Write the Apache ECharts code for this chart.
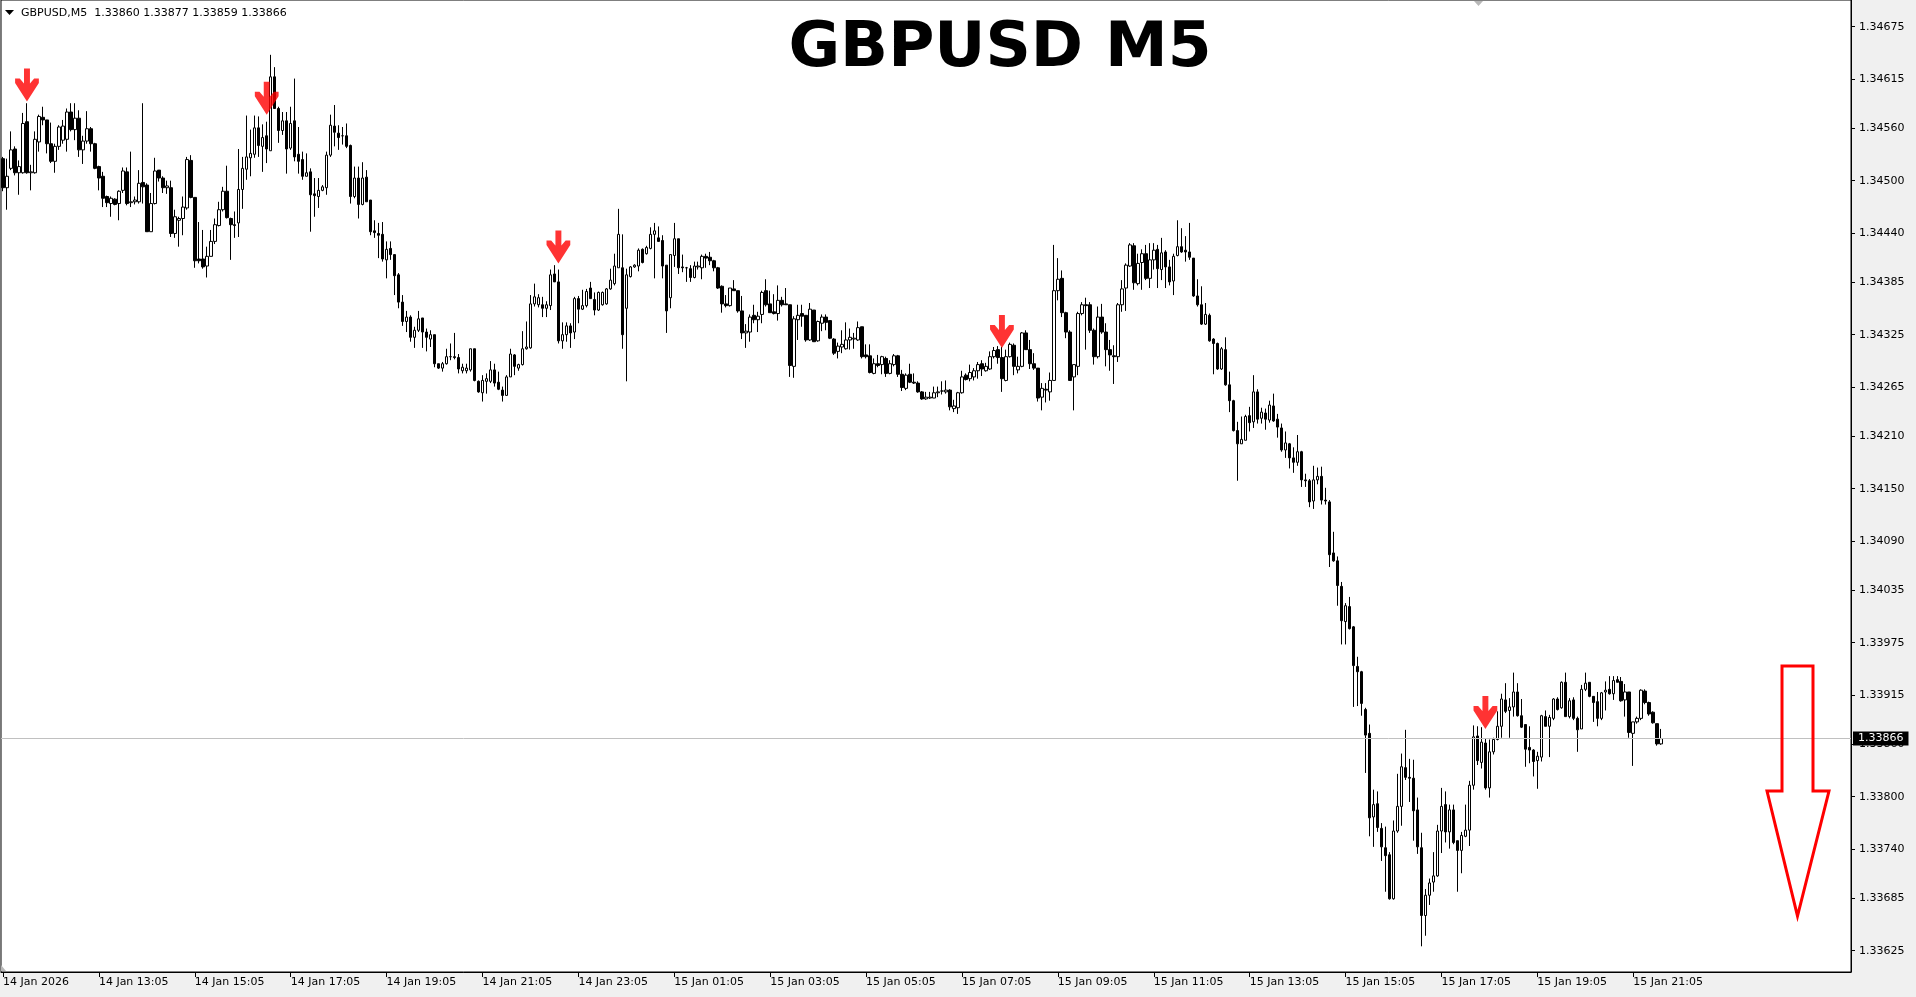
<!DOCTYPE html>
<html>
<head>
<meta charset="utf-8">
<script src="https://cdn.jsdelivr.net/npm/echarts@6/dist/echarts.min.js"></script>
<style>
html,body{margin:0;padding:0;background:#f0f0f0;}
#chart{width:1916px;height:997px;}
</style>
</head>
<body>
<div id="chart"></div>
<script>
// ---------- DATA ----------
const symbolName = 'GBPUSD,M5';
const titleText = 'GBPUSD M5';
const startTime = '2026-01-14 11:05';
const timeLabels = ['14 Jan 2026','14 Jan 13:05','14 Jan 15:05','14 Jan 17:05','14 Jan 19:05','14 Jan 21:05','14 Jan 23:05','15 Jan 01:05','15 Jan 03:05','15 Jan 05:05','15 Jan 07:05','15 Jan 09:05','15 Jan 11:05','15 Jan 13:05','15 Jan 15:05','15 Jan 17:05','15 Jan 19:05','15 Jan 21:05'];
const priceTicks = [1.34675,1.34615,1.34560,1.34500,1.34440,1.34385,1.34325,1.34265,1.34210,1.34150,1.34090,1.34035,1.33975,1.33915,1.33860,1.33800,1.33740,1.33685,1.33625];
const arrowBars = [6,66,139,250,371];
const arrowPrices = [1.34590,1.34575,1.34406,1.34310,1.33877];

const opens = [1.34525,1.34492,1.34514,1.34536,1.34509,1.34509,1.34567,1.34509,1.34509,1.34544,1.34572,1.34569,1.34542,1.34522,1.34539,1.34546,1.34547,1.34578,1.34558,1.34571,1.34535,1.34545,1.34559,1.34542,1.34516,1.34505,1.34482,1.34474,1.34479,1.34474,1.34489,1.34510,1.34475,1.34476,1.34476,1.34498,1.34495,1.34442,1.34474,1.34512,1.34503,1.34492,1.34492,1.34440,1.34455,1.34457,1.34469,1.34523,1.34481,1.34411,1.34411,1.34403,1.34414,1.34431,1.34449,1.34467,1.34488,1.34457,1.34450,1.34452,1.34490,1.34513,1.34526,1.34530,1.34560,1.34539,1.34551,1.34534,1.34618,1.34582,1.34557,1.34568,1.34537,1.34568,1.34530,1.34524,1.34505,1.34510,1.34485,1.34482,1.34489,1.34492,1.34529,1.34562,1.34554,1.34551,1.34551,1.34540,1.34482,1.34503,1.34473,1.34504,1.34478,1.34443,1.34440,1.34439,1.34410,1.34423,1.34416,1.34393,1.34362,1.34340,1.34345,1.34322,1.34330,1.34344,1.34328,1.34320,1.34325,1.34292,1.34287,1.34292,1.34300,1.34300,1.34299,1.34284,1.34284,1.34285,1.34309,1.34272,1.34259,1.34272,1.34272,1.34285,1.34271,1.34262,1.34256,1.34277,1.34302,1.34287,1.34291,1.34309,1.34310,1.34360,1.34359,1.34359,1.34355,1.34358,1.34394,1.34385,1.34318,1.34325,1.34335,1.34328,1.34366,1.34354,1.34358,1.34378,1.34365,1.34353,1.34359,1.34360,1.34377,1.34383,1.34401,1.34401,1.34355,1.34391,1.34402,1.34403,1.34422,1.34417,1.34423,1.34439,1.34435,1.34432,1.34404,1.34367,1.34415,1.34434,1.34402,1.34401,1.34400,1.34390,1.34402,1.34401,1.34414,1.34413,1.34409,1.34401,1.34380,1.34360,1.34358,1.34377,1.34375,1.34352,1.34327,1.34328,1.34347,1.34342,1.34348,1.34375,1.34360,1.34351,1.34349,1.34364,1.34360,1.34359,1.34289,1.34342,1.34349,1.34347,1.34319,1.34353,1.34318,1.34338,1.34345,1.34341,1.34320,1.34306,1.34311,1.34309,1.34319,1.34320,1.34319,1.34334,1.34302,1.34301,1.34281,1.34292,1.34291,1.34298,1.34281,1.34291,1.34301,1.34280,1.34264,1.34280,1.34271,1.34270,1.34260,1.34252,1.34253,1.34253,1.34259,1.34261,1.34260,1.34262,1.34241,1.34242,1.34259,1.34279,1.34275,1.34277,1.34284,1.34292,1.34284,1.34286,1.34300,1.34308,1.34299,1.34273,1.34300,1.34313,1.34285,1.34289,1.34327,1.34308,1.34292,1.34287,1.34254,1.34263,1.34260,1.34273,1.34375,1.34389,1.34350,1.34328,1.34277,1.34289,1.34349,1.34359,1.34359,1.34330,1.34300,1.34345,1.34328,1.34308,1.34301,1.34300,1.34359,1.34378,1.34403,1.34426,1.34383,1.34407,1.34417,1.34389,1.34410,1.34422,1.34399,1.34419,1.34402,1.34386,1.34415,1.34425,1.34421,1.34419,1.34412,1.34369,1.34359,1.34337,1.34347,1.34320,1.34315,1.34286,1.34308,1.34268,1.34250,1.34216,1.34201,1.34205,1.34233,1.34226,1.34260,1.34230,1.34236,1.34228,1.34244,1.34229,1.34219,1.34194,1.34201,1.34185,1.34180,1.34192,1.34160,1.34159,1.34136,1.34160,1.34164,1.34137,1.34135,1.34077,1.34068,1.34039,1.33999,1.34016,1.33993,1.33948,1.33942,1.33899,1.33872,1.33777,1.33792,1.33764,1.33742,1.33734,1.33684,1.33761,1.33789,1.33833,1.33822,1.33821,1.33785,1.33742,1.33665,1.33688,1.33703,1.33710,1.33761,1.33791,1.33760,1.33785,1.33750,1.33739,1.33755,1.33762,1.33813,1.33869,1.33839,1.33861,1.33810,1.33851,1.33865,1.33880,1.33910,1.33898,1.33902,1.33919,1.33892,1.33882,1.33856,1.33853,1.33841,1.33845,1.33891,1.33880,1.33889,1.33911,1.33901,1.33930,1.33891,1.33910,1.33889,1.33877,1.33922,1.33930,1.33914,1.33908,1.33889,1.33919,1.33922,1.33917,1.33933,1.33931,1.33910,1.33919,1.33872,1.33885,1.33889,1.33920,1.33907,1.33896,1.33883,1.33860];
const highs = [1.34527,1.34525,1.34556,1.34539,1.34523,1.34577,1.34588,1.34518,1.34556,1.34575,1.34584,1.34569,1.34566,1.34542,1.34563,1.34569,1.34582,1.34588,1.34588,1.34580,1.34551,1.34579,1.34561,1.34543,1.34517,1.34510,1.34483,1.34482,1.34480,1.34489,1.34515,1.34515,1.34533,1.34482,1.34512,1.34588,1.34497,1.34486,1.34526,1.34512,1.34505,1.34500,1.34500,1.34467,1.34459,1.34482,1.34527,1.34529,1.34481,1.34453,1.34444,1.34425,1.34444,1.34457,1.34476,1.34493,1.34517,1.34458,1.34465,1.34536,1.34527,1.34574,1.34558,1.34574,1.34573,1.34564,1.34567,1.34643,1.34629,1.34584,1.34578,1.34578,1.34584,1.34616,1.34561,1.34533,1.34531,1.34514,1.34503,1.34503,1.34495,1.34533,1.34575,1.34586,1.34563,1.34561,1.34565,1.34541,1.34516,1.34516,1.34521,1.34512,1.34478,1.34455,1.34452,1.34453,1.34431,1.34431,1.34416,1.34395,1.34370,1.34352,1.34347,1.34334,1.34352,1.34344,1.34332,1.34330,1.34325,1.34292,1.34294,1.34309,1.34315,1.34327,1.34303,1.34292,1.34292,1.34309,1.34309,1.34273,1.34279,1.34281,1.34295,1.34292,1.34283,1.34266,1.34279,1.34309,1.34303,1.34292,1.34329,1.34340,1.34370,1.34383,1.34371,1.34368,1.34363,1.34399,1.34404,1.34399,1.34339,1.34339,1.34338,1.34368,1.34369,1.34376,1.34377,1.34385,1.34373,1.34374,1.34374,1.34378,1.34400,1.34417,1.34468,1.34439,1.34400,1.34403,1.34405,1.34423,1.34423,1.34426,1.34447,1.34452,1.34448,1.34438,1.34404,1.34416,1.34452,1.34434,1.34416,1.34402,1.34404,1.34408,1.34408,1.34416,1.34417,1.34419,1.34410,1.34402,1.34381,1.34370,1.34378,1.34387,1.34375,1.34369,1.34337,1.34348,1.34359,1.34351,1.34375,1.34388,1.34375,1.34371,1.34381,1.34368,1.34378,1.34359,1.34346,1.34359,1.34359,1.34347,1.34361,1.34353,1.34341,1.34348,1.34348,1.34341,1.34321,1.34316,1.34330,1.34339,1.34332,1.34327,1.34340,1.34334,1.34314,1.34314,1.34298,1.34302,1.34301,1.34300,1.34296,1.34303,1.34302,1.34285,1.34281,1.34292,1.34281,1.34272,1.34261,1.34260,1.34260,1.34266,1.34266,1.34272,1.34273,1.34263,1.34251,1.34260,1.34284,1.34281,1.34291,1.34287,1.34294,1.34296,1.34293,1.34306,1.34311,1.34312,1.34311,1.34308,1.34316,1.34315,1.34300,1.34328,1.34330,1.34319,1.34304,1.34287,1.34270,1.34270,1.34282,1.34427,1.34412,1.34398,1.34351,1.34330,1.34291,1.34351,1.34362,1.34367,1.34362,1.34332,1.34357,1.34360,1.34338,1.34319,1.34313,1.34361,1.34387,1.34406,1.34429,1.34429,1.34417,1.34422,1.34427,1.34429,1.34429,1.34427,1.34435,1.34421,1.34410,1.34417,1.34455,1.34446,1.34437,1.34452,1.34412,1.34388,1.34380,1.34361,1.34349,1.34321,1.34316,1.34311,1.34322,1.34283,1.34251,1.34226,1.34232,1.34234,1.34243,1.34279,1.34263,1.34242,1.34241,1.34250,1.34258,1.34235,1.34224,1.34215,1.34202,1.34197,1.34211,1.34193,1.34167,1.34161,1.34176,1.34174,1.34175,1.34151,1.34137,1.34101,1.34073,1.34044,1.34020,1.34027,1.33994,1.33959,1.33943,1.33901,1.33882,1.33808,1.33806,1.33770,1.33766,1.33737,1.33773,1.33826,1.33849,1.33876,1.33843,1.33842,1.33799,1.33759,1.33695,1.33707,1.33737,1.33768,1.33810,1.33806,1.33791,1.33791,1.33750,1.33760,1.33791,1.33818,1.33881,1.33880,1.33879,1.33866,1.33865,1.33867,1.33897,1.33917,1.33929,1.33912,1.33941,1.33929,1.33911,1.33882,1.33880,1.33854,1.33851,1.33893,1.33898,1.33893,1.33912,1.33913,1.33931,1.33941,1.33912,1.33913,1.33891,1.33927,1.33941,1.33930,1.33914,1.33919,1.33919,1.33931,1.33937,1.33937,1.33937,1.33936,1.33928,1.33919,1.33885,1.33891,1.33922,1.33922,1.33908,1.33897,1.33883,1.33877];
const lows = [1.34488,1.34467,1.34512,1.34506,1.34484,1.34508,1.34508,1.34489,1.34508,1.34533,1.34563,1.34531,1.34520,1.34509,1.34535,1.34542,1.34533,1.34556,1.34546,1.34527,1.34519,1.34542,1.34533,1.34513,1.34489,1.34470,1.34470,1.34459,1.34472,1.34455,1.34486,1.34472,1.34470,1.34473,1.34474,1.34474,1.34442,1.34442,1.34473,1.34499,1.34486,1.34485,1.34436,1.34435,1.34425,1.34438,1.34467,1.34480,1.34401,1.34406,1.34400,1.34390,1.34414,1.34428,1.34448,1.34465,1.34457,1.34410,1.34435,1.34436,1.34468,1.34501,1.34505,1.34526,1.34527,1.34510,1.34520,1.34534,1.34582,1.34543,1.34552,1.34508,1.34535,1.34522,1.34508,1.34501,1.34505,1.34442,1.34459,1.34469,1.34488,1.34484,1.34527,1.34539,1.34535,1.34541,1.34537,1.34474,1.34480,1.34457,1.34472,1.34476,1.34438,1.34435,1.34412,1.34408,1.34389,1.34410,1.34370,1.34355,1.34335,1.34328,1.34317,1.34310,1.34328,1.34310,1.34306,1.34311,1.34288,1.34286,1.34283,1.34291,1.34296,1.34297,1.34281,1.34281,1.34281,1.34283,1.34272,1.34259,1.34249,1.34258,1.34270,1.34266,1.34262,1.34249,1.34256,1.34277,1.34279,1.34284,1.34290,1.34308,1.34309,1.34357,1.34356,1.34345,1.34345,1.34353,1.34385,1.34315,1.34309,1.34317,1.34310,1.34320,1.34338,1.34353,1.34356,1.34366,1.34347,1.34352,1.34358,1.34359,1.34376,1.34381,1.34401,1.34309,1.34272,1.34390,1.34401,1.34397,1.34406,1.34416,1.34422,1.34389,1.34431,1.34389,1.34327,1.34355,1.34402,1.34394,1.34396,1.34385,1.34385,1.34389,1.34399,1.34388,1.34401,1.34404,1.34397,1.34377,1.34350,1.34356,1.34357,1.34375,1.34350,1.34320,1.34310,1.34317,1.34338,1.34328,1.34338,1.34357,1.34350,1.34348,1.34341,1.34357,1.34359,1.34277,1.34276,1.34319,1.34334,1.34317,1.34318,1.34317,1.34317,1.34329,1.34330,1.34320,1.34302,1.34298,1.34304,1.34308,1.34308,1.34309,1.34318,1.34298,1.34298,1.34281,1.34280,1.34288,1.34280,1.34277,1.34280,1.34289,1.34277,1.34261,1.34262,1.34270,1.34269,1.34259,1.34251,1.34251,1.34252,1.34253,1.34254,1.34257,1.34258,1.34239,1.34237,1.34235,1.34258,1.34273,1.34272,1.34273,1.34275,1.34278,1.34283,1.34285,1.34298,1.34292,1.34260,1.34272,1.34299,1.34279,1.34281,1.34288,1.34308,1.34286,1.34285,1.34249,1.34239,1.34248,1.34250,1.34273,1.34364,1.34345,1.34321,1.34273,1.34239,1.34279,1.34347,1.34308,1.34327,1.34291,1.34298,1.34326,1.34289,1.34284,1.34269,1.34294,1.34351,1.34352,1.34402,1.34376,1.34381,1.34376,1.34387,1.34378,1.34399,1.34378,1.34387,1.34378,1.34381,1.34370,1.34414,1.34418,1.34408,1.34410,1.34368,1.34357,1.34336,1.34336,1.34317,1.34280,1.34285,1.34285,1.34267,1.34237,1.34215,1.34159,1.34201,1.34205,1.34215,1.34219,1.34224,1.34224,1.34217,1.34225,1.34226,1.34208,1.34192,1.34185,1.34173,1.34168,1.34176,1.34152,1.34152,1.34129,1.34127,1.34155,1.34132,1.34132,1.34061,1.34067,1.34017,1.33973,1.33973,1.33990,1.33902,1.33903,1.33892,1.33827,1.33755,1.33743,1.33760,1.33727,1.33692,1.33683,1.33683,1.33759,1.33767,1.33819,1.33794,1.33750,1.33735,1.33630,1.33642,1.33677,1.33692,1.33709,1.33736,1.33748,1.33741,1.33746,1.33692,1.33713,1.33754,1.33744,1.33808,1.33836,1.33832,1.33808,1.33799,1.33848,1.33864,1.33867,1.33895,1.33867,1.33891,1.33891,1.33878,1.33834,1.33838,1.33823,1.33809,1.33840,1.33880,1.33845,1.33887,1.33898,1.33900,1.33891,1.33889,1.33887,1.33851,1.33877,1.33920,1.33913,1.33885,1.33880,1.33887,1.33898,1.33916,1.33910,1.33930,1.33908,1.33891,1.33867,1.33835,1.33883,1.33887,1.33905,1.33892,1.33883,1.33858,1.33859];
const closes = [1.34492,1.34505,1.34535,1.34509,1.34516,1.34565,1.34509,1.34510,1.34547,1.34573,1.34569,1.34542,1.34522,1.34539,1.34561,1.34562,1.34578,1.34558,1.34571,1.34535,1.34545,1.34559,1.34542,1.34514,1.34503,1.34480,1.34475,1.34480,1.34473,1.34488,1.34511,1.34474,1.34476,1.34478,1.34497,1.34493,1.34442,1.34474,1.34511,1.34503,1.34492,1.34494,1.34440,1.34459,1.34457,1.34470,1.34524,1.34481,1.34409,1.34409,1.34402,1.34414,1.34431,1.34450,1.34467,1.34488,1.34458,1.34450,1.34449,1.34490,1.34514,1.34527,1.34531,1.34560,1.34540,1.34549,1.34536,1.34618,1.34582,1.34557,1.34568,1.34536,1.34565,1.34527,1.34522,1.34505,1.34509,1.34484,1.34483,1.34489,1.34493,1.34529,1.34563,1.34555,1.34549,1.34551,1.34539,1.34482,1.34503,1.34473,1.34503,1.34476,1.34442,1.34441,1.34438,1.34411,1.34422,1.34416,1.34392,1.34362,1.34340,1.34345,1.34322,1.34330,1.34343,1.34328,1.34322,1.34325,1.34292,1.34287,1.34292,1.34300,1.34300,1.34299,1.34286,1.34288,1.34287,1.34309,1.34273,1.34260,1.34273,1.34275,1.34285,1.34270,1.34263,1.34256,1.34277,1.34303,1.34289,1.34291,1.34309,1.34311,1.34360,1.34368,1.34367,1.34355,1.34359,1.34393,1.34385,1.34318,1.34325,1.34335,1.34327,1.34366,1.34354,1.34358,1.34374,1.34366,1.34353,1.34373,1.34373,1.34377,1.34387,1.34403,1.34439,1.34325,1.34393,1.34402,1.34404,1.34421,1.34407,1.34424,1.34439,1.34443,1.34431,1.34403,1.34352,1.34416,1.34434,1.34401,1.34401,1.34401,1.34390,1.34403,1.34403,1.34414,1.34412,1.34409,1.34401,1.34378,1.34360,1.34358,1.34378,1.34375,1.34352,1.34327,1.34329,1.34345,1.34342,1.34346,1.34373,1.34359,1.34350,1.34349,1.34364,1.34359,1.34359,1.34290,1.34343,1.34347,1.34346,1.34319,1.34354,1.34317,1.34340,1.34345,1.34339,1.34321,1.34304,1.34312,1.34314,1.34319,1.34322,1.34321,1.34333,1.34300,1.34300,1.34282,1.34292,1.34290,1.34300,1.34281,1.34292,1.34301,1.34280,1.34265,1.34279,1.34271,1.34270,1.34260,1.34252,1.34254,1.34254,1.34259,1.34260,1.34261,1.34262,1.34243,1.34244,1.34259,1.34277,1.34274,1.34282,1.34284,1.34291,1.34286,1.34289,1.34300,1.34307,1.34299,1.34275,1.34300,1.34314,1.34289,1.34289,1.34327,1.34308,1.34292,1.34287,1.34253,1.34264,1.34262,1.34273,1.34375,1.34388,1.34350,1.34328,1.34273,1.34291,1.34349,1.34359,1.34358,1.34330,1.34300,1.34345,1.34328,1.34308,1.34302,1.34300,1.34359,1.34377,1.34404,1.34427,1.34384,1.34406,1.34417,1.34389,1.34410,1.34421,1.34400,1.34418,1.34402,1.34385,1.34414,1.34425,1.34419,1.34419,1.34413,1.34369,1.34359,1.34337,1.34348,1.34318,1.34315,1.34286,1.34309,1.34268,1.34250,1.34216,1.34201,1.34206,1.34232,1.34225,1.34260,1.34229,1.34237,1.34229,1.34245,1.34227,1.34220,1.34194,1.34202,1.34185,1.34180,1.34192,1.34160,1.34159,1.34135,1.34160,1.34164,1.34137,1.34136,1.34075,1.34068,1.34040,1.34000,1.34017,1.33991,1.33949,1.33942,1.33906,1.33870,1.33776,1.33791,1.33765,1.33743,1.33733,1.33684,1.33761,1.33789,1.33834,1.33822,1.33821,1.33784,1.33743,1.33665,1.33688,1.33702,1.33710,1.33761,1.33789,1.33760,1.33785,1.33748,1.33739,1.33756,1.33762,1.33813,1.33868,1.33841,1.33862,1.33810,1.33851,1.33865,1.33880,1.33911,1.33897,1.33902,1.33919,1.33892,1.33879,1.33854,1.33853,1.33840,1.33846,1.33892,1.33880,1.33890,1.33911,1.33899,1.33930,1.33891,1.33909,1.33889,1.33876,1.33922,1.33929,1.33914,1.33907,1.33889,1.33918,1.33921,1.33917,1.33932,1.33930,1.33909,1.33919,1.33873,1.33885,1.33889,1.33921,1.33907,1.33894,1.33884,1.33860,1.33866];

// ---------- BUILD ----------
const TOTAL_SLOTS = 463;        // bars + empty right shift area
const LABEL_STEP = 24;          // one time label every 2 hours
const categories = [];
(function(){
  const t0 = new Date(startTime.replace(' ', 'T') + ':00Z').getTime();
  for (let i = 0; i < TOTAL_SLOTS; i++) {
    const d = new Date(t0 + i * 300000);
    const p = n => String(n).padStart(2, '0');
    categories.push(d.getUTCFullYear() + '.' + p(d.getUTCMonth()+1) + '.' + p(d.getUTCDate()) + ' ' + p(d.getUTCHours()) + ':' + p(d.getUTCMinutes()));
  }
})();
const candleData = opens.map((o, i) => [o, closes[i], lows[i], highs[i]]);
const n = opens.length;
const lastClose = closes[n-1];
const headerText = symbolName + '  ' + [opens[n-1], highs[n-1], lows[n-1], closes[n-1]].map(v => v.toFixed(5)).join(' ');
const arrowData = arrowBars.map((b, k) => [b, arrowPrices[k]]);
const labelAt = idx => idx % LABEL_STEP === 0 && idx / LABEL_STEP < timeLabels.length;

const FONT = '"DejaVu Sans", Verdana, sans-serif';
const chart = echarts.init(document.getElementById('chart'), null, {renderer: 'canvas'});
const arrowPath = 'path://M10.5 0 L17.5 0 L17.5 15 L22.5 10 L28 10 L28 14.5 L14 33 L0 14.5 L0 10 L5.5 10 L10.5 15 Z';

chart.setOption({
  animation: false,
  backgroundColor: '#f0f0f0',
  grid: {left: 0, top: 0, right: 65, bottom: 25, show: true, backgroundColor: '#ffffff', borderColor: '#000000', borderWidth: 1, containLabel: false},
  xAxis: {
    type: 'category', data: categories, boundaryGap: true,
    axisLine: {show: true, lineStyle: {color: '#000000', width: 1}},
    axisTick: {show: true, alignWithLabel: true, interval: (i) => labelAt(i), length: 5, lineStyle: {color: '#000000'}},
    axisLabel: {show: true, interval: (i) => labelAt(i), formatter: (v, i) => labelAt(i) ? timeLabels[i / LABEL_STEP] : '', align: 'left', margin: 5, color: '#000000', fontFamily: FONT, fontSize: 11},
    splitLine: {show: false}
  },
  yAxis: {
    type: 'value', position: 'right', min: 1.336008, max: 1.347053,
    axisLine: {show: true, lineStyle: {color: '#000000', width: 1}},
    axisTick: {show: true, customValues: priceTicks, length: 4, lineStyle: {color: '#000000'}},
    axisLabel: {show: true, customValues: priceTicks, formatter: v => v.toFixed(5), margin: 8, color: '#000000', fontFamily: FONT, fontSize: 11},
    splitLine: {show: false}
  },
  graphic: [
    {type: 'rect', left: 1912, top: 0, shape: {width: 4, height: 997}, style: {fill: '#f0f0f0'}, z: 0, silent: true},
    {type: 'polygon', shape: {points: [[5,10],[14,10],[9.5,15]]}, style: {fill: '#000000'}, z: 100},
    {type: 'text', x: 21, y: 13, style: {text: headerText, font: '11px ' + FONT, fill: '#000000', verticalAlign: 'middle', textVerticalAlign: 'middle'}, z: 100},
    {type: 'text', x: 1000, y: 50, style: {text: titleText, font: 'bold 63px ' + FONT, fill: '#000000', align: 'center', textAlign: 'center', verticalAlign: 'middle', textVerticalAlign: 'middle'}, z: 100},
    {type: 'polygon', shape: {points: [[1474,1],[1483,1],[1478.5,6]]}, style: {fill: '#b8b8b8'}, z: 100},
    {type: 'polygon', shape: {points: [[1,965],[1,971],[6,971]]}, style: {fill: '#b8b8b8'}, z: 100},
    {type: 'polygon', shape: {points: [[1782,666],[1813,666],[1813,791],[1829,791],[1797.5,916],[1767,791],[1782,791]]}, style: {fill: 'none', stroke: '#ff0000', lineWidth: 3, lineJoin: 'miter'}, z: 100}
  ],
  series: [
    {
      type: 'candlestick', data: candleData, barWidth: 3,
      itemStyle: {color: '#ffffff', color0: '#000000', borderColor: '#000000', borderColor0: '#000000', borderWidth: 1},
      emphasis: {disabled: true},
      z: 3
    },
    {
      type: 'scatter', data: arrowData, symbol: arrowPath, symbolSize: [28, 33], symbolKeepAspect: true,
      symbolOffset: [0, '-50%'], itemStyle: {color: '#ff0000'}, silent: true, z: 5,
      markLine: {
        silent: true, symbol: ['none', 'none'], animation: false, precision: 5,
        lineStyle: {color: '#c0c0c0', width: 1, type: 'solid'},
        label: {show: true, position: 'end', distance: 2, formatter: () => lastClose.toFixed(5), backgroundColor: '#000000', color: '#ffffff', fontFamily: FONT, fontSize: 11, lineHeight: 12, padding: [1, 5, 1, 5]},
        emphasis: {disabled: true},
        data: [{yAxis: lastClose}]
      }
    }
  ]
});
</script>
</body>
</html>
